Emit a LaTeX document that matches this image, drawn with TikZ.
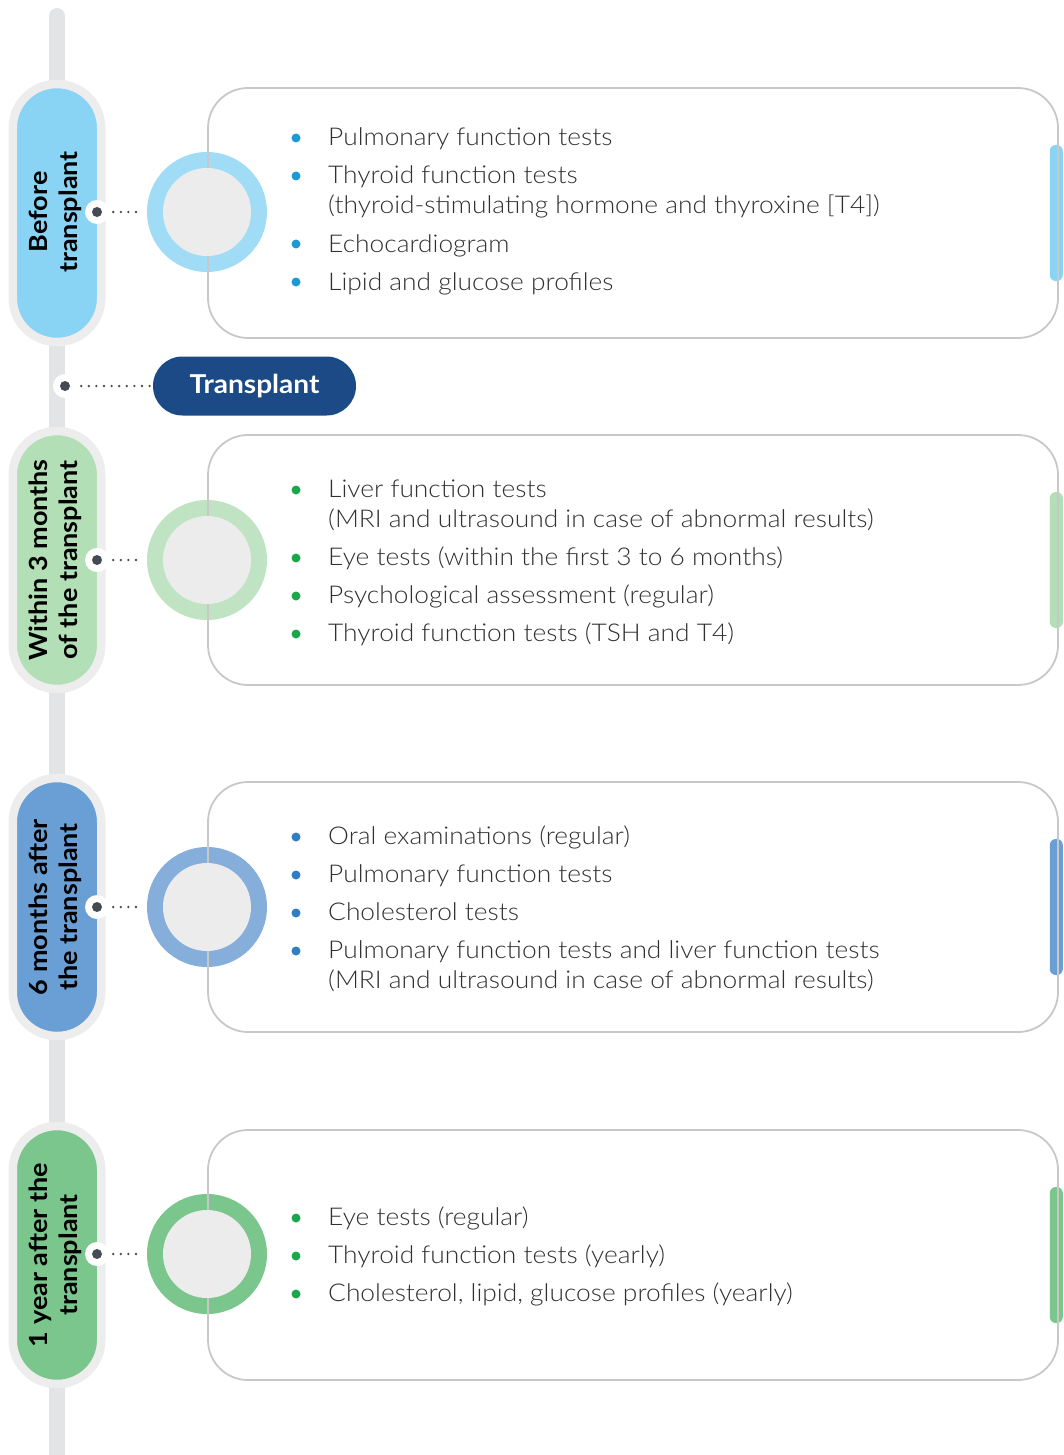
\documentclass[tikz,border=0pt]{standalone}
\usepackage{fontspec}
\setmainfont{Lato}[UprightFont=* Light, BoldFont=* Bold, FakeStretch=1.075]
\newfontfamily\pillfont{Lato}[UprightFont=* Bold, FakeStretch=1.08]
\begin{document}
\begin{tikzpicture}[x=1pt,y=-1pt,
  txt/.style={anchor=base west, inner sep=0pt, font=\fontsize{24.5}{30}\selectfont, text=textgray},
  pilltxt/.style={rotate=90, align=center, font=\pillfont\fontsize{25}{30}\selectfont, text=black, inner sep=0pt},
  pill/.style={draw=pillrim, line width=8.5pt, minimum width=88.5pt, minimum height=258pt, rounded corners=44pt, inner sep=0pt},
  box/.style={draw=boxgray, line width=1.8pt, minimum width=850pt, minimum height=250pt, rounded corners=40pt, inner sep=0pt},
  ring/.style={circle, minimum size=120pt, inner sep=0pt},
  core/.style={circle, fill=coregray, minimum size=88pt, inner sep=0pt},
  halo/.style={circle, fill=white, minimum size=24pt, inner sep=0pt},
  dotc/.style={circle, fill=dotgray, minimum size=10pt, inner sep=0pt},
  dots/.style={draw=dotgray, line width=2.6pt, line cap=round, dash pattern=on 0pt off 7.6pt},
  bar/.style={minimum width=13pt, minimum height=136pt, rounded corners=6pt, inner sep=0pt, anchor=east}
]
\definecolor{textgray}{HTML}{303030}
\definecolor{pillrim}{HTML}{EDEDED}
\definecolor{boxgray}{HTML}{C8C8C8}
\definecolor{coregray}{HTML}{ECECEC}
\definecolor{dotgray}{HTML}{454B54}
\definecolor{track}{HTML}{E3E4E6}
\definecolor{navy}{HTML}{1B4A87}
\definecolor{lbpill}{HTML}{89D3F5}
\definecolor{lbring}{HTML}{A1DCF6}
\definecolor{lbbul}{HTML}{1B9AD7}
\definecolor{lgpill}{HTML}{B2DFB5}
\definecolor{lgring}{HTML}{C0E4C3}
\definecolor{gbul}{HTML}{1AA84B}
\definecolor{mbpill}{HTML}{6A9FD6}
\definecolor{mbring}{HTML}{85AEDB}
\definecolor{mbbul}{HTML}{2F7DC2}
\definecolor{gpill}{HTML}{7BC68D}
\definecolor{gring}{HTML}{7BC68D}

\useasboundingbox (0,0) rectangle (1063,1455);

% timeline track
\coordinate (trackTop) at (57,16);
\coordinate (trackBot) at (57,1470);
\draw[track, line width=16pt, line cap=round] (trackTop) -- (trackBot);

% ---------- Section 1: Before transplant ----------
\node[bar, fill=lbpill] (bar1) at (1063,213) {};
\node[ring, fill=lbring] (ring1) at (207,212) {};
\node[box] (box1) at (633,213) {};
\node[core] (core1) at (207,212) {};
\node[pill, fill=lbpill] (pill1) at (57,213) {};
\node[pilltxt] (pt1) at (55,212) {Before\\transplant};
\node[halo] (halo1) at (97,212) {};
\node[dotc] (dot1) at (97,212) {};
\draw[dots] (halo1.east) ++(4,0) coordinate (d1s) -- (ring1.west -| 138,0) coordinate (d1e);
\fill[lbbul] (296,138) circle (4.5);
\fill[lbbul] (296,176) circle (4.5);
\fill[lbbul] (296,244) circle (4.5);
\fill[lbbul] (296,282) circle (4.5);
\node[txt] (s1a) at (328,146) {Pulmonary function tests};
\node[txt] (s1b) at (328,184) {Thyroid function tests};
\node[txt] (s1c) at (328,214) {(thyroid-stimulating hormone and thyroxine [T4])};
\node[txt] (s1d) at (328,252) {Echocardiogram};
\node[txt] (s1e) at (328,290) {Lipid and glucose profiles};

% ---------- Transplant ----------
\node[fill=navy, minimum width=203pt, minimum height=59pt, rounded corners=29.5pt, inner sep=0pt,
      text=white, font=\pillfont\fontsize{26}{28}\selectfont] (tp) at (254.5,386) {Transplant};
\node[halo] (halo0) at (65,386) {};
\node[dotc] (dot0) at (65,386) {};
\draw[dots] (halo0.east) ++(4,0) -- (tp.west);

% ---------- Section 2: Within 3 months ----------
\node[bar, fill=lgpill] (bar2) at (1063,560) {};
\node[ring, fill=lgring] (ring2) at (207,560) {};
\node[box] (box2) at (633,560) {};
\node[core] (core2) at (207,560) {};
\node[pill, fill=lgpill] (pill2) at (57,560) {};
\node[pilltxt] (pt2) at (55,560) {Within 3 months\\of the transplant};
\node[halo] (halo2) at (97,560) {};
\node[dotc] (dot2) at (97,560) {};
\draw[dots] (halo2.east) ++(4,0) -- (ring2.west -| 138,0);
\fill[gbul] (296,490) circle (4.5);
\fill[gbul] (296,558) circle (4.5);
\fill[gbul] (296,596) circle (4.5);
\fill[gbul] (296,634) circle (4.5);
\node[txt] (s2a) at (328,497) {Liver function tests};
\node[txt] (s2b) at (328,527) {(MRI and ultrasound in case of abnormal results)};
\node[txt] (s2c) at (328,565) {Eye tests (within the first 3 to 6 months)};
\node[txt] (s2d) at (328,603) {Psychological assessment (regular)};
\node[txt] (s2e) at (328,641) {Thyroid function tests (TSH and T4)};

% ---------- Section 3: 6 months after ----------
\node[bar, fill=mbpill] (bar3) at (1063,907) {};
\node[ring, fill=mbring] (ring3) at (207,907) {};
\node[box] (box3) at (633,907) {};
\node[core] (core3) at (207,907) {};
\node[pill, fill=mbpill] (pill3) at (57,907) {};
\node[pilltxt] (pt3) at (55,907) {6 months after\\the transplant};
\node[halo] (halo3) at (97,907) {};
\node[dotc] (dot3) at (97,907) {};
\draw[dots] (halo3.east) ++(4,0) -- (ring3.west -| 138,0);
\fill[mbbul] (296,837) circle (4.5);
\fill[mbbul] (296,875) circle (4.5);
\fill[mbbul] (296,913) circle (4.5);
\fill[mbbul] (296,951) circle (4.5);
\node[txt] (s3a) at (328,844) {Oral examinations (regular)};
\node[txt] (s3b) at (328,882) {Pulmonary function tests};
\node[txt] (s3c) at (328,920) {Cholesterol tests};
\node[txt] (s3d) at (328,958) {Pulmonary function tests and liver function tests};
\node[txt] (s3e) at (328,988) {(MRI and ultrasound in case of abnormal results)};

% ---------- Section 4: 1 year after ----------
\node[bar, fill=gpill] (bar4) at (1063,1255) {};
\node[ring, fill=gring] (ring4) at (207,1254) {};
\node[box] (box4) at (633,1255) {};
\node[core] (core4) at (207,1254) {};
\node[pill, fill=gpill] (pill4) at (57,1255) {};
\node[pilltxt] (pt4) at (55,1255) {1 year after the\\transplant};
\node[halo] (halo4) at (97,1254) {};
\node[dotc] (dot4) at (97,1254) {};
\draw[dots] (halo4.east) ++(4,0) -- (ring4.west -| 138,0);
\fill[gbul] (296,1218) circle (4.5);
\fill[gbul] (296,1256) circle (4.5);
\fill[gbul] (296,1294) circle (4.5);
\node[txt] (s4a) at (328,1225) {Eye tests (regular)};
\node[txt] (s4b) at (328,1263) {Thyroid function tests (yearly)};
\node[txt] (s4c) at (328,1301) {Cholesterol, lipid, glucose profiles (yearly)};
\end{tikzpicture}
\end{document}
